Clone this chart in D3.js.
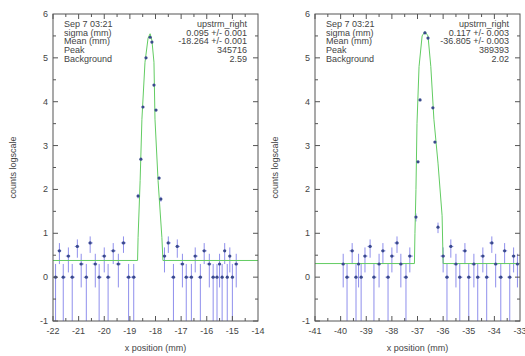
<!DOCTYPE html>
<html>
<head>
<meta charset="utf-8">
<script src="https://cdn.jsdelivr.net/npm/d3@7"></script>
<style>
  body { margin: 0; background: #fff; }
  svg { display: block; font-family: "Liberation Sans", Arial, sans-serif; }
</style>
</head>
<body>
<div id="chart"></div>
<script>
// ---- data (y = log10 counts) ----
const leftX = [-21.9, -21.75, -21.6, -21.4, -21.25, -21.05, -20.9, -20.7, -20.55, -20.35, -20.2, -20.0, -19.85, -19.65, -19.45, -19.25, -19.05, -18.85,
  -18.68, -18.57, -18.49, -18.37, -18.21, -18.14, -18.06, -17.98, -17.86, -17.79,
  -17.65, -17.5, -17.3, -17.15, -16.95, -16.8, -16.6, -16.45, -16.25, -16.1, -15.9, -15.75, -15.6, -15.5, -15.4, -15.3, -15.2, -15.1, -15.0, -14.85]
const leftY = [0, 0.6, 0, 0.48, 0, 0.7, 0.3, 0, 0.78, 0.3, 0, 0.48, 0, 0.6, 0.3, 0.78, 0, 0,
  1.85, 2.69, 3.88, 5.0, 5.47, 5.36, 4.38, 3.81, 2.26, 1.78,
  0.48, 0.78, 0, 0.7, 0.3, 0, 0, 0.48, 0, 0.6, 0.3, 0, 0, 0.3, 0, 0.6, 0, 0.48, 0, 0.3]
const leftFitX = [-22, -18.7, -18.68, -18.6, -18.53, -18.41, -18.29, -18.21, -18.14, -18.06, -18.02, -17.9, -17.75, -17.71, -14]
const leftFitY = [0.38, 0.38, 0.9, 2.2, 3.6, 4.9, 5.45, 5.55, 5.4, 4.9, 3.6, 2.2, 0.9, 0.38, 0.38]
const leftStats = [['Sep 7 03:21', 'upstrm_right'], ['sigma (mm)', '0.095 +/- 0.001'], ['Mean (mm)', '-18.264 +/- 0.001'], ['Peak', '345716'], ['Background', '2.59']]
const leftTicks = [-22, -21, -20, -19, -18, -17, -16, -15, -14]

const rightX = [-39.9, -39.75, -39.55, -39.4, -39.3, -39.2, -39.05, -38.85, -38.7, -38.5, -38.35, -38.15, -38.0, -37.8, -37.65, -37.45, -37.3,
  -37.06, -36.98, -36.9, -36.71, -36.59, -36.4, -36.32, -36.2,
  -36.0, -35.85, -35.7, -35.5, -35.35, -35.15, -35.0, -34.8, -34.65, -34.45, -34.3, -34.1, -33.95, -33.75, -33.6, -33.4, -33.25, -33.1]
const rightY = [0.3, 0, 0.6, 0, 0.3, 0, 0.48, 0.7, 0, 0.3, 0.6, 0, 0.48, 0.78, 0.3, 0, 0.48,
  1.37, 2.63, 4.04, 5.57, 5.45, 3.86, 3.08, 1.14,
  0.48, 0, 0.7, 0.3, 0, 0.6, 0, 0.3, 0, 0.48, 0, 0.78, 0.3, 0, 0.6, 0, 0.48, 0.3]
const rightFitX = [-41, -37.12, -37.1, -37.06, -37.02, -36.94, -36.82, -36.71, -36.59, -36.48, -36.36, -36.2, -36.04, -36.0, -33]
const rightFitY = [0.31, 0.31, 1.0, 2.0, 3.5, 4.8, 5.5, 5.6, 5.5, 4.8, 3.6, 2.6, 1.4, 0.31, 0.31]
const rightStats = [['Sep 7 03:21', 'upstrm_right'], ['sigma (mm)', '0.117 +/- 0.003'], ['Mean (mm)', '-36.805 +/- 0.003'], ['Peak', '389393'], ['Background', '2.02']]
const rightTicks = [-41, -40, -39, -38, -37, -36, -35, -34, -33]

const yTicks = [-1, 0, 1, 2, 3, 4, 5, 6]

const width = 525
const height = 356
const plotTop = 14, plotBottom = 321

const COLORS = {
  frame: '#555',
  text: '#444',
  err: '#6a6ae6',
  marker: '#3a4a8c',
  fit: '#62cc62'
}

const svg = d3.select('#chart').append('svg')
  .attr('width', width)
  .attr('height', height)

svg.append('rect').attr('width', width).attr('height', height).attr('fill', '#fff')

const panels = [
  { id: 'l', left: 53, right: 258, xs: leftX, ys: leftY, fx: leftFitX, fy: leftFitY, stats: leftStats, ticks: leftTicks },
  { id: 'r', left: 315, right: 520, xs: rightX, ys: rightY, fx: rightFitX, fy: rightFitY, stats: rightStats, ticks: rightTicks }
]

panels.forEach(p => {
  const x = d3.scaleLinear().domain([p.ticks[0], p.ticks[p.ticks.length - 1]]).range([p.left, p.right])
  const y = d3.scaleLinear().domain([-1, 6]).range([plotBottom, plotTop])

  svg.append('clipPath').attr('id', 'clip-' + p.id)
    .append('rect').attr('x', p.left).attr('y', plotTop).attr('width', p.right - p.left).attr('height', plotBottom - plotTop)

  const g = svg.append('g')
  const plot = g.append('g').attr('clip-path', `url(#clip-${p.id})`)

  const pts = p.xs.map((xv, i) => {
    const n = Math.pow(10, p.ys[i])
    const e = Math.sqrt(n)
    const lo = n - e > 0.1 ? Math.log10(n - e) : -1.5
    const hi = Math.log10(n + e)
    // bin edges half way to the neighbours
    const prev = i > 0 ? p.xs[i - 1] : xv - 0.15
    const next = i < p.xs.length - 1 ? p.xs[i + 1] : xv + 0.15
    const small = p.ys[i] > 1
    const x0 = small ? xv - 0.02 : xv - Math.min(xv - prev, 0.3) / 2
    const x1 = small ? xv + 0.02 : xv + Math.min(next - xv, 0.3) / 2
    return { x: xv, y: p.ys[i], lo, hi, x0, x1 }
  })

  // error bars
  plot.append('g')
    .selectAll('line')
    .data(pts)
    .join('line')
    .attr('x1', d => x(d.x)).attr('x2', d => x(d.x))
    .attr('y1', d => y(d.lo)).attr('y2', d => y(d.hi))
    .attr('stroke', COLORS.err).attr('stroke-opacity', 0.75).attr('stroke-width', 1)
  plot.append('g')
    .selectAll('line')
    .data(pts)
    .join('line')
    .attr('x1', d => x(d.x0)).attr('x2', d => x(d.x1))
    .attr('y1', d => y(d.y)).attr('y2', d => y(d.y))
    .attr('stroke', COLORS.err).attr('stroke-opacity', 0.75).attr('stroke-width', 1)

  // fit
  const fit = p.fx.map((v, i) => [v, p.fy[i]])
  plot.append('path')
    .datum(fit)
    .attr('d', d3.line().x(d => x(d[0])).y(d => y(d[1])))
    .attr('fill', 'none')
    .attr('stroke', COLORS.fit)
    .attr('stroke-width', 1)

  // markers
  plot.append('g')
    .selectAll('circle')
    .data(pts)
    .join('circle')
    .attr('cx', d => x(d.x)).attr('cy', d => y(d.y)).attr('r', 1.6)
    .attr('fill', COLORS.marker)

  // frame
  g.append('rect')
    .attr('x', p.left).attr('y', plotTop).attr('width', p.right - p.left).attr('height', plotBottom - plotTop)
    .attr('fill', 'none').attr('stroke', COLORS.frame).attr('stroke-width', 1)

  // ticks (inward, all sides)
  const minorX = d3.range(p.ticks[0], p.ticks[p.ticks.length - 1], 0.5)
  const minorY = d3.range(-1, 6, 0.5)
  const tk = g.append('g').attr('stroke', COLORS.frame).attr('stroke-width', 1)
  minorX.forEach(v => {
    const len = Number.isInteger(v) ? 5 : 3
    tk.append('line').attr('x1', x(v)).attr('x2', x(v)).attr('y1', plotBottom).attr('y2', plotBottom - len)
    tk.append('line').attr('x1', x(v)).attr('x2', x(v)).attr('y1', plotTop).attr('y2', plotTop + len)
  })
  minorY.forEach(v => {
    const len = Number.isInteger(v) ? 5 : 3
    tk.append('line').attr('x1', p.left).attr('x2', p.left + len).attr('y1', y(v)).attr('y2', y(v))
    tk.append('line').attr('x1', p.right).attr('x2', p.right - len).attr('y1', y(v)).attr('y2', y(v))
  })

  // tick labels
  g.append('g')
    .selectAll('text')
    .data(p.ticks)
    .join('text')
    .attr('x', d => x(d)).attr('y', plotBottom + 13)
    .attr('text-anchor', 'middle').attr('font-size', 9).attr('fill', COLORS.text)
    .text(d => d)
  g.append('g')
    .selectAll('text')
    .data(yTicks)
    .join('text')
    .attr('x', p.left - 5).attr('y', d => y(d) + 3)
    .attr('text-anchor', 'end').attr('font-size', 9).attr('fill', COLORS.text)
    .text(d => d)

  // axis titles
  g.append('text')
    .attr('x', (p.left + p.right) / 2).attr('y', 351)
    .attr('text-anchor', 'middle').attr('font-size', 9).attr('fill', COLORS.text)
    .text('x position (mm)')
  g.append('text')
    .attr('transform', `translate(${p.left - 37},${(plotTop + plotBottom) / 2}) rotate(-90)`)
    .attr('text-anchor', 'middle').attr('font-size', 9).attr('fill', COLORS.text)
    .text('counts logscale')

  // stats box
  const sb = g.append('g').attr('font-size', 9).attr('fill', COLORS.text)
  p.stats.forEach((row, i) => {
    const yy = 27 + i * 8.7
    sb.append('text').attr('x', p.left + 11).attr('y', yy).text(row[0])
    sb.append('text').attr('x', p.right - 11).attr('y', yy).attr('text-anchor', 'end').text(row[1])
  })
})
</script>
</body>
</html>
